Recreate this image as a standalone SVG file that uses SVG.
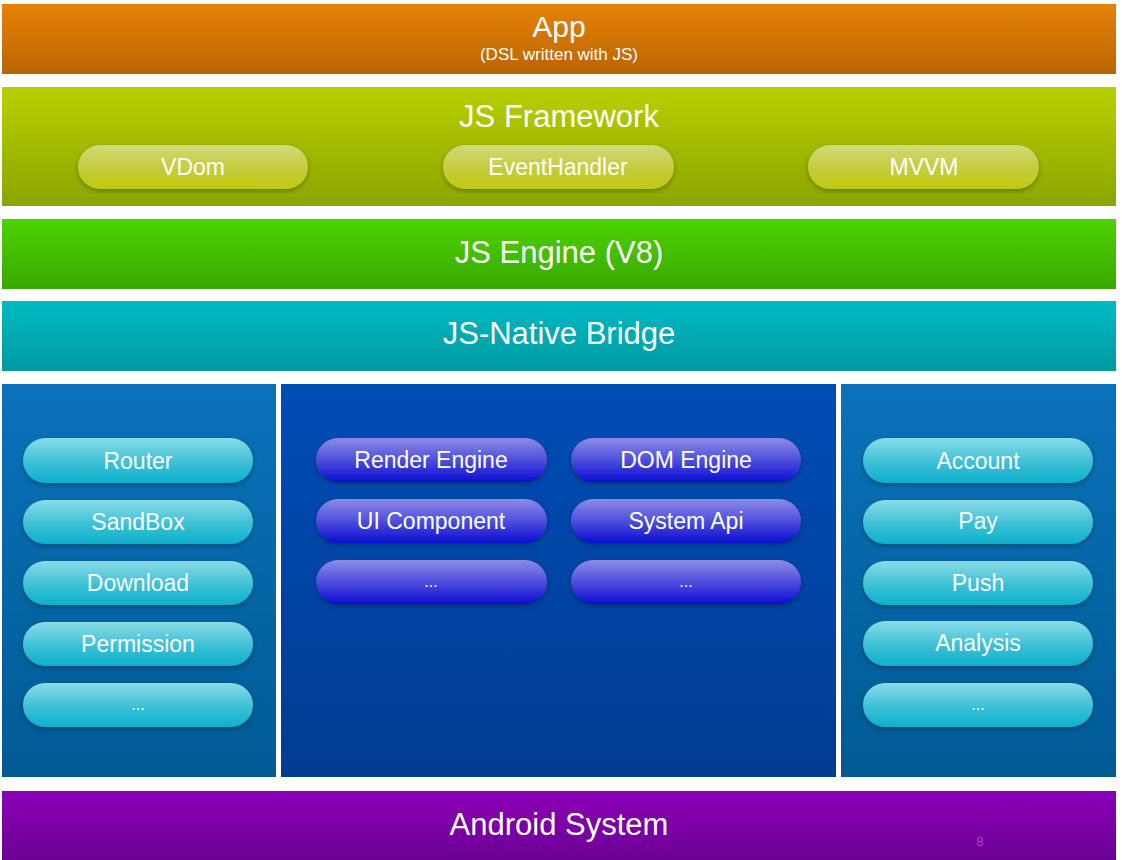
<svg xmlns="http://www.w3.org/2000/svg" width="1122" height="860" viewBox="0 0 1122 860">
<defs>
<linearGradient id="gApp" x1="0" y1="0" x2="0" y2="1"><stop offset="0" stop-color="#e68206"/><stop offset="1" stop-color="#b96504"/></linearGradient>
<linearGradient id="gFw" x1="0" y1="0" x2="0" y2="1"><stop offset="0" stop-color="#b8d000"/><stop offset="1" stop-color="#8ca500"/></linearGradient>
<linearGradient id="gEng" x1="0" y1="0" x2="0" y2="1"><stop offset="0" stop-color="#4ed300"/><stop offset="1" stop-color="#38a800"/></linearGradient>
<linearGradient id="gBr" x1="0" y1="0" x2="0" y2="1"><stop offset="0" stop-color="#00bac2"/><stop offset="1" stop-color="#009aa3"/></linearGradient>
<linearGradient id="gSide" x1="0" y1="0" x2="0" y2="1"><stop offset="0" stop-color="#0a72ba"/><stop offset="1" stop-color="#005a94"/></linearGradient>
<linearGradient id="gMid" x1="0" y1="0" x2="0" y2="1"><stop offset="0" stop-color="#004db6"/><stop offset="1" stop-color="#003c92"/></linearGradient>
<linearGradient id="gAnd" x1="0" y1="0" x2="0" y2="1"><stop offset="0" stop-color="#8b00b8"/><stop offset="1" stop-color="#6c0094"/></linearGradient>
<linearGradient id="pY" x1="0" y1="0" x2="0" y2="1"><stop offset="0" stop-color="#d2d878"/><stop offset="0.55" stop-color="#c4cc3c"/><stop offset="1" stop-color="#c0ca10"/></linearGradient>
<linearGradient id="pC" x1="0" y1="0" x2="0" y2="1"><stop offset="0" stop-color="#8adbe6"/><stop offset="0.55" stop-color="#3cc0d6"/><stop offset="1" stop-color="#0cb0cc"/></linearGradient>
<linearGradient id="pB" x1="0" y1="0" x2="0" y2="1"><stop offset="0" stop-color="#8c8ce6"/><stop offset="0.55" stop-color="#4848dc"/><stop offset="1" stop-color="#0c0cd2"/></linearGradient>
<filter id="sh" x="-10%" y="-30%" width="120%" height="170%"><feDropShadow dx="0" dy="2" stdDeviation="2.5" flood-color="#000" flood-opacity="0.3"/></filter>
</defs>
<style>
text{font-family:"Liberation Sans",Arial,sans-serif;fill:#fff;text-anchor:middle}
.t{font-size:31px}
.p{font-size:23px}
.pill{filter:url(#sh)}
</style>
<rect width="1122" height="860" fill="#fff"/>

<g id="app"><rect x="2" y="4" width="1114" height="70" fill="url(#gApp)"/><text x="559" y="37" style="font-size:30px">App</text><text x="559" y="60" style="font-size:17px">(DSL written with JS)</text></g>

<g id="jsframework"><rect x="2" y="87" width="1114" height="119" fill="url(#gFw)"/><text class="t" x="559" y="127">JS Framework</text>
<g id="vdom"><rect class="pill" x="78" y="145" width="230" height="44" rx="22" fill="url(#pY)"/><text class="p" x="193" y="175">VDom</text></g>
<g id="eventhandler"><rect class="pill" x="443" y="145" width="231" height="44" rx="22" fill="url(#pY)"/><text class="p" x="558" y="175">EventHandler</text></g>
<g id="mvvm"><rect class="pill" x="808" y="145" width="231" height="44" rx="22" fill="url(#pY)"/><text class="p" x="924" y="175">MVVM</text></g>
</g>

<g id="jsengine"><rect x="2" y="219" width="1114" height="70" fill="url(#gEng)"/><text class="t" x="559" y="263">JS Engine (V8)</text></g>

<g id="bridge"><rect x="2" y="301" width="1114" height="70" fill="url(#gBr)"/><text class="t" x="559" y="344">JS-Native Bridge</text></g>

<g id="left-panel"><rect x="2" y="384" width="274" height="393" fill="url(#gSide)"/>
<g id="router"><rect class="pill" x="23" y="438" width="230" height="45" rx="22.5" fill="url(#pC)"/><text class="p" x="138" y="469">Router</text></g>
<g id="sandbox"><rect class="pill" x="23" y="500" width="230" height="44" rx="22" fill="url(#pC)"/><text class="p" x="138" y="530">SandBox</text></g>
<g id="download"><rect class="pill" x="23" y="561" width="230" height="44" rx="22" fill="url(#pC)"/><text class="p" x="138" y="591">Download</text></g>
<g id="permission"><rect class="pill" x="23" y="622" width="230" height="44" rx="22" fill="url(#pC)"/><text class="p" x="138" y="652">Permission</text></g>
<g id="left-more"><rect class="pill" x="23" y="683" width="230" height="44" rx="22" fill="url(#pC)"/><text class="p" x="138" y="710" style="font-size:16px">...</text></g>
</g>

<g id="middle-panel"><rect x="281" y="384" width="555" height="393" fill="url(#gMid)"/>
<g id="render-engine"><rect class="pill" x="316" y="438" width="231" height="44" rx="22" fill="url(#pB)"/><text class="p" x="431" y="468">Render Engine</text></g>
<g id="dom-engine"><rect class="pill" x="571" y="438" width="230" height="44" rx="22" fill="url(#pB)"/><text class="p" x="686" y="468">DOM Engine</text></g>
<g id="ui-component"><rect class="pill" x="316" y="499" width="231" height="44" rx="22" fill="url(#pB)"/><text class="p" x="431" y="529">UI Component</text></g>
<g id="system-api"><rect class="pill" x="571" y="499" width="230" height="44" rx="22" fill="url(#pB)"/><text class="p" x="686" y="529">System Api</text></g>
<g id="mid-more-1"><rect class="pill" x="316" y="560" width="231" height="44" rx="22" fill="url(#pB)"/><text class="p" x="431" y="587" style="font-size:16px">...</text></g>
<g id="mid-more-2"><rect class="pill" x="571" y="560" width="230" height="44" rx="22" fill="url(#pB)"/><text class="p" x="686" y="587" style="font-size:16px">...</text></g>
</g>

<g id="right-panel"><rect x="841" y="384" width="275" height="393" fill="url(#gSide)"/>
<g id="account"><rect class="pill" x="863" y="438" width="230" height="45" rx="22.5" fill="url(#pC)"/><text class="p" x="978" y="469">Account</text></g>
<g id="pay"><rect class="pill" x="863" y="500" width="230" height="44" rx="22" fill="url(#pC)"/><text class="p" x="978" y="529">Pay</text></g>
<g id="push"><rect class="pill" x="863" y="561" width="230" height="44" rx="22" fill="url(#pC)"/><text class="p" x="978" y="591">Push</text></g>
<g id="analysis"><rect class="pill" x="863" y="621" width="230" height="45" rx="22.5" fill="url(#pC)"/><text class="p" x="978" y="651">Analysis</text></g>
<g id="right-more"><rect class="pill" x="863" y="683" width="230" height="44" rx="22" fill="url(#pC)"/><text class="p" x="978" y="710" style="font-size:16px">...</text></g>
</g>

<g id="android"><rect x="2" y="791" width="1114" height="69" fill="url(#gAnd)"/><text class="t" x="559" y="835">Android System</text><text x="980" y="846" style="font-size:13px;fill:#a44bc8">8</text></g>

<g id="connectors"/>
</svg>
